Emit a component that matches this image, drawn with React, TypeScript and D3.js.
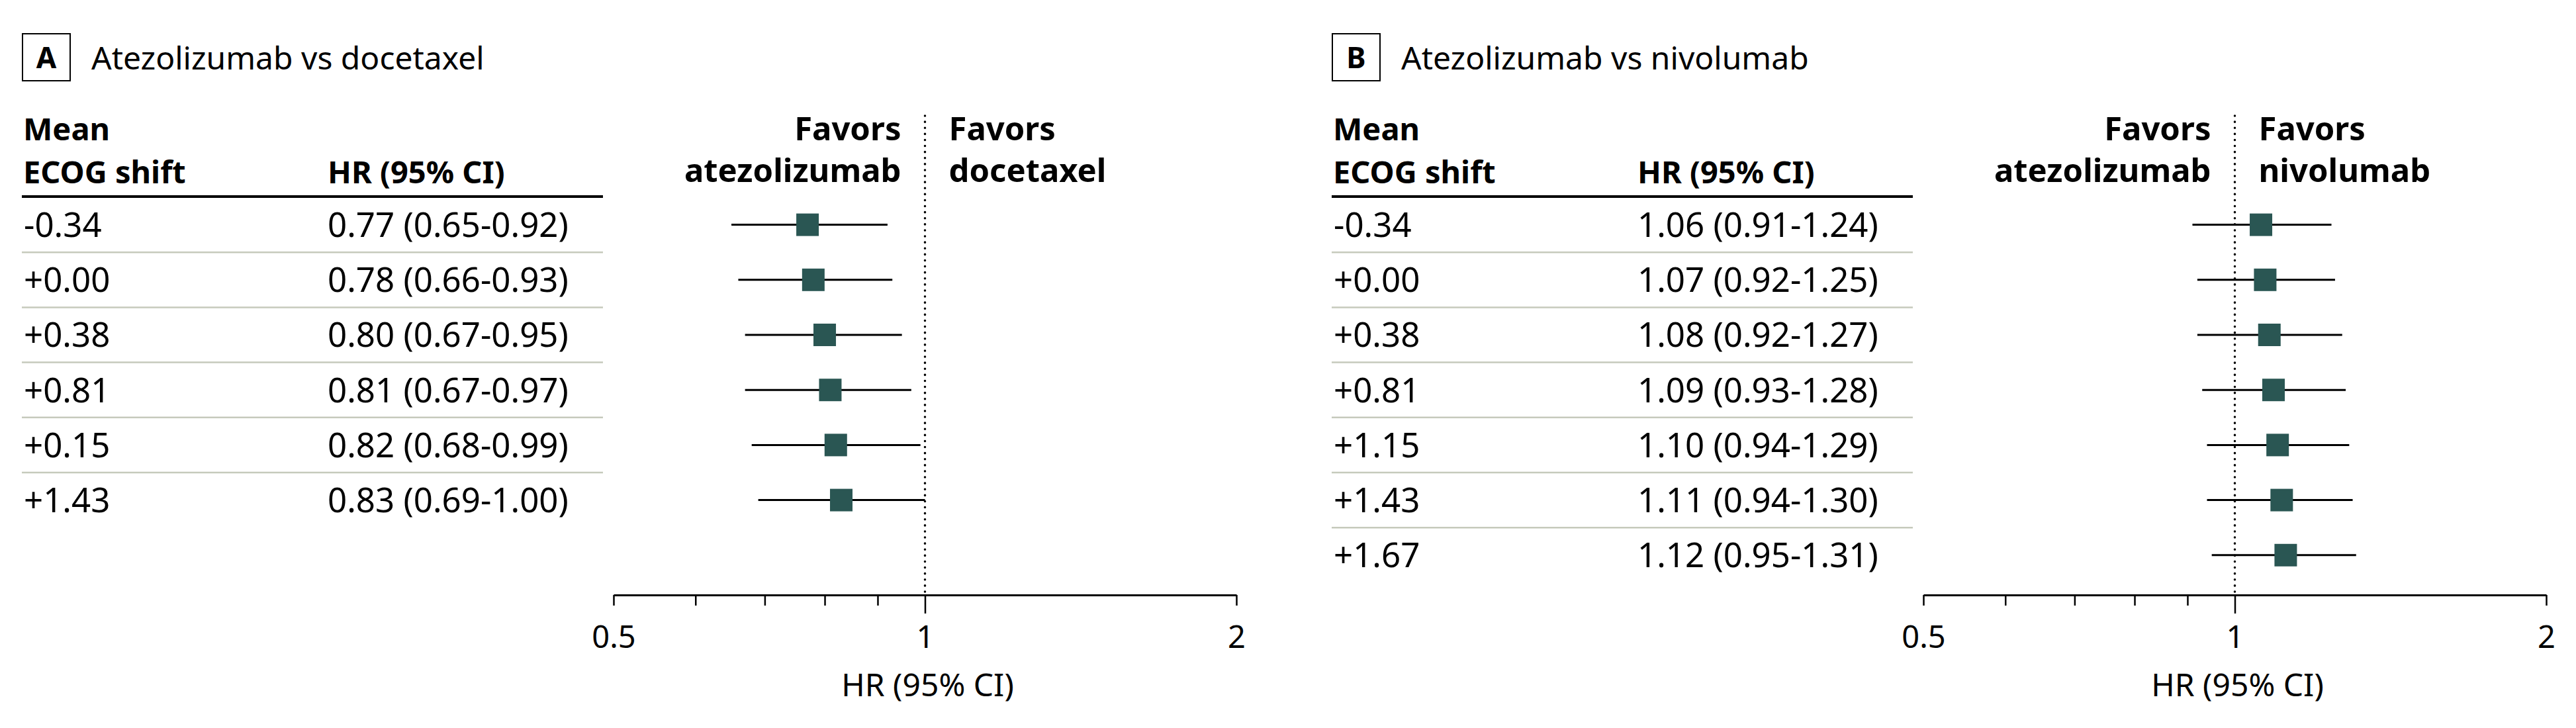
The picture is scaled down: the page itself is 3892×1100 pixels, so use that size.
import React, { useEffect, useRef } from "react";
import * as d3 from "d3";

// Panel A: atezolizumab vs docetaxel
const shiftsA = ["-0.34", "+0.00", "+0.38", "+0.81", "+0.15", "+1.43"];
const hrA = [0.77, 0.78, 0.8, 0.81, 0.82, 0.83];
const lowA = [0.65, 0.66, 0.67, 0.67, 0.68, 0.69];
const highA = [0.92, 0.93, 0.95, 0.97, 0.99, 1.0];

// Panel B: atezolizumab vs nivolumab
const shiftsB = ["-0.34", "+0.00", "+0.38", "+0.81", "+1.15", "+1.43", "+1.67"];
const hrB = [1.06, 1.07, 1.08, 1.09, 1.1, 1.11, 1.12];
const lowB = [0.91, 0.92, 0.92, 0.93, 0.94, 0.94, 0.95];
const highB = [1.24, 1.25, 1.27, 1.28, 1.29, 1.3, 1.31];

const axisTicks = [0.5, 0.6, 0.7, 0.8, 0.9, 1, 2];
const axisLabels = [0.5, 1, 2];

interface Row {
  shift: string;
  hr: number;
  low: number;
  high: number;
}

const makeRows = (s: string[], h: number[], l: number[], u: number[]): Row[] =>
  s.map((shift, i) => ({ shift, hr: h[i], low: l[i], high: u[i] }));

const panels = [
  {
    letter: "A",
    title: "Atezolizumab vs docetaxel",
    comparator: "docetaxel",
    rows: makeRows(shiftsA, hrA, lowA, highA),
  },
  {
    letter: "B",
    title: "Atezolizumab vs nivolumab",
    comparator: "nivolumab",
    rows: makeRows(shiftsB, hrB, lowB, highB),
  },
];

const FONT = "'Noto Sans', 'Open Sans', 'DejaVu Sans', sans-serif";
const WIDTH = 3892;
const HEIGHT = 1100;

export default function App() {
  const svgRef = useRef<SVGSVGElement>(null);

  useEffect(() => {
    const svg = d3.select(svgRef.current);
    svg.selectAll("*").remove();

    const rowStep = 83.2;
    const tableTop = 298;
    const axisY = 899;
    const markerColor = "#2a5653";

    panels.forEach((panel, pi) => {
      const x0 = 33 + pi * 1979;
      const g = svg.append("g").attr("transform", `translate(${x0},0)`);

      // Panel letter box + title
      g.append("rect")
        .attr("x", 1)
        .attr("y", 51)
        .attr("width", 72)
        .attr("height", 71)
        .attr("fill", "none")
        .attr("stroke", "#000")
        .attr("stroke-width", 2);
      g.append("text")
        .attr("x", 37)
        .attr("y", 103)
        .attr("text-anchor", "middle")
        .attr("font-family", FONT)
        .attr("font-weight", "bold")
        .attr("font-size", 44)
        .text(panel.letter);
      g.append("text")
        .attr("x", 105)
        .attr("y", 105)
        .attr("font-family", FONT)
        .attr("font-size", 48)
        .text(panel.title);

      // Table header
      const header = g
        .append("g")
        .attr("font-family", FONT)
        .attr("font-weight", "bold")
        .attr("font-size", 47);
      header.append("text").attr("x", 2).attr("y", 212).text("Mean");
      header.append("text").attr("x", 2).attr("y", 277).text("ECOG shift");
      header.append("text").attr("x", 462).attr("y", 277).text("HR (95% CI)");
      g.append("line")
        .attr("x1", 0)
        .attr("x2", 878)
        .attr("y1", 297)
        .attr("y2", 297)
        .attr("stroke", "#000")
        .attr("stroke-width", 4);

      const n = panel.rows.length;
      const y = d3
        .scaleBand<number>()
        .domain(d3.range(n))
        .range([tableTop, tableTop + rowStep * n])
        .padding(0);
      const yc = (i: number) => (y(i) as number) + y.bandwidth() / 2;

      // Row separators
      g.append("g")
        .selectAll("line")
        .data(d3.range(1, n))
        .join("line")
        .attr("x1", 0)
        .attr("x2", 878)
        .attr("y1", (i) => y(i) as number)
        .attr("y2", (i) => y(i) as number)
        .attr("stroke", "#c6cabc")
        .attr("stroke-width", 2.5);

      // Row text
      const fmt = d3.format(".2f");
      const rowText = g
        .append("g")
        .attr("font-family", FONT)
        .attr("font-size", 51);
      rowText
        .selectAll("text.shift")
        .data(panel.rows)
        .join("text")
        .attr("class", "shift")
        .attr("x", 3)
        .attr("y", (_, i) => yc(i))
        .attr("dy", "0.36em")
        .text((d) => d.shift);
      rowText
        .selectAll("text.hr")
        .data(panel.rows)
        .join("text")
        .attr("class", "hr")
        .attr("x", 462)
        .attr("y", (_, i) => yc(i))
        .attr("dy", "0.36em")
        .text((d) => `${fmt(d.hr)} (${fmt(d.low)}-${fmt(d.high)})`);

      // Forest plot
      const x = d3.scaleLog().domain([0.5, 2]).range([894, 1835]);

      // Favors labels
      const fav = g
        .append("g")
        .attr("font-family", FONT)
        .attr("font-weight", "bold")
        .attr("font-size", 49);
      fav.append("text")
        .attr("x", x(1) - 36)
        .attr("y", 212)
        .attr("text-anchor", "end")
        .text("Favors");
      fav.append("text")
        .attr("x", x(1) - 36)
        .attr("y", 275)
        .attr("text-anchor", "end")
        .text("atezolizumab");
      fav.append("text")
        .attr("x", x(1) + 36)
        .attr("y", 212)
        .text("Favors");
      fav.append("text")
        .attr("x", x(1) + 36)
        .attr("y", 275)
        .text(panel.comparator);

      // Reference line at HR = 1
      g.append("line")
        .attr("x1", x(1))
        .attr("x2", x(1))
        .attr("y1", 175)
        .attr("y2", axisY)
        .attr("stroke", "#000")
        .attr("stroke-width", 3.5)
        .attr("stroke-linecap", "round")
        .attr("stroke-dasharray", "0.1 9");

      // CI lines and squares
      g.append("g")
        .selectAll("line")
        .data(panel.rows)
        .join("line")
        .attr("x1", (d) => x(d.low))
        .attr("x2", (d) => x(d.high))
        .attr("y1", (_, i) => yc(i))
        .attr("y2", (_, i) => yc(i))
        .attr("stroke", "#000")
        .attr("stroke-width", 3);
      g.append("g")
        .selectAll("rect")
        .data(panel.rows)
        .join("rect")
        .attr("x", (d) => x(d.hr) - 17)
        .attr("y", (_, i) => yc(i) - 17)
        .attr("width", 34)
        .attr("height", 34)
        .attr("fill", markerColor);

      // X axis
      const axis = d3
        .axisBottom(x)
        .tickValues(axisTicks)
        .tickFormat((d) => (axisLabels.includes(+d) ? String(+d) : ""))
        .tickSize(16)
        .tickSizeOuter(0)
        .tickPadding(31);
      const ag = g
        .append("g")
        .attr("transform", `translate(0,${axisY})`)
        .call(axis);
      ag.attr("font-family", FONT).attr("font-size", 47);
      ag.select(".domain").attr("stroke", "#000").attr("stroke-width", 3);
      ag.selectAll<SVGLineElement, number>(".tick line")
        .attr("stroke", "#000")
        .attr("stroke-width", 2.5)
        .attr("y2", (d) => (d === 1 ? 28 : 16));
      ag.selectAll(".tick text").attr("fill", "#000");

      g.append("text")
        .attr("x", (894 + 1835) / 2 + 4)
        .attr("y", 1052)
        .attr("text-anchor", "middle")
        .attr("font-family", FONT)
        .attr("font-size", 48)
        .text("HR (95% CI)");
    });
  }, []);

  return (
    <svg
      ref={svgRef}
      width={WIDTH}
      height={HEIGHT}
      style={{ position: "absolute", left: 0, top: 0, display: "block", background: "#fff" }}
    />
  );
}
